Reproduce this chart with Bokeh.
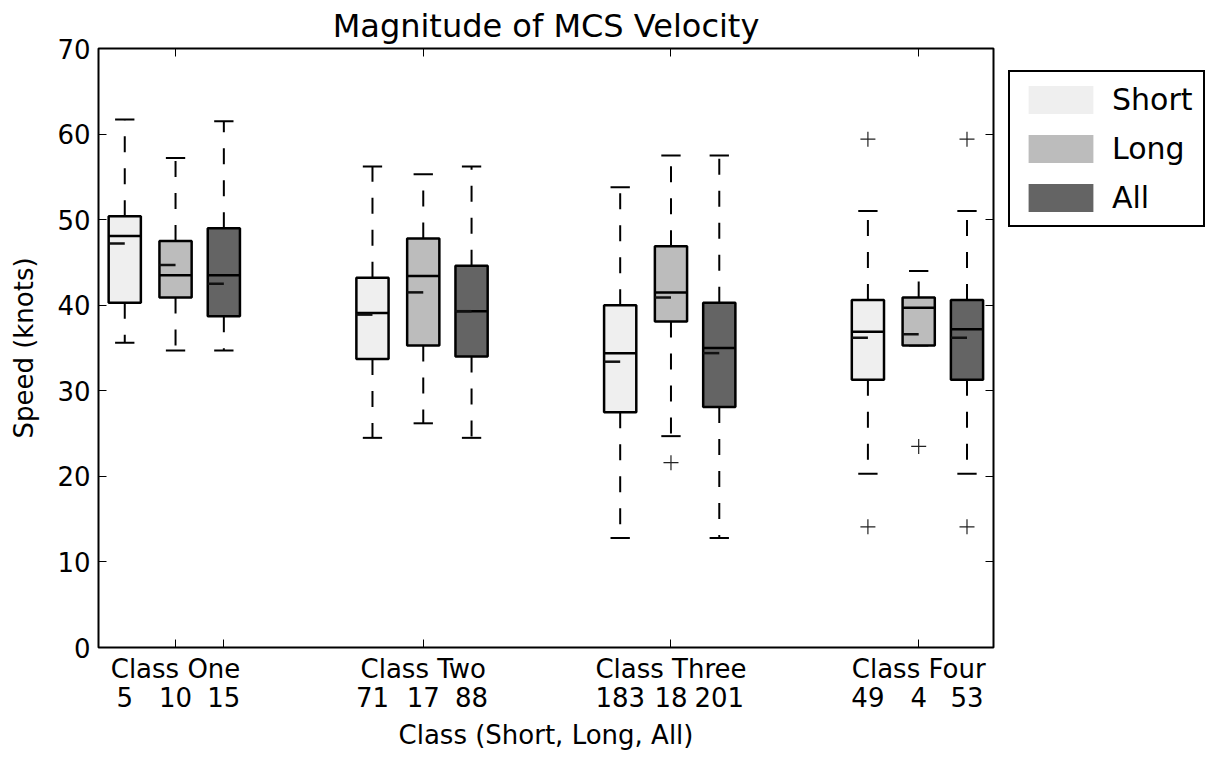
from bokeh.plotting import figure
from bokeh.layouts import row
from bokeh.models import Range1d, LinearAxis, FixedTicker, Legend, LegendItem, ColumnDataSource
from bokeh.embed import file_html
from bokeh.resources import INLINE

# ---------------- data ----------------
classes = ["Class One", "Class Two", "Class Three", "Class Four"]
series = ["Short", "Long", "All"]

short_counts = [5, 71, 183, 49]
long_counts = [10, 17, 18, 4]
all_counts = [15, 88, 201, 53]

short_low = [35.6, 24.5, 12.8, 20.3]
short_q1 = [40.3, 33.7, 27.5, 31.3]
short_median = [48.1, 39.1, 34.4, 36.9]
short_q3 = [50.4, 43.2, 40.0, 40.6]
short_high = [61.7, 56.2, 53.8, 51.0]
short_mean = [47.2, 38.9, 33.4, 36.2]
short_outliers = [[], [], [], [59.4, 14.1]]

long_low = [34.7, 26.2, 24.7, 35.3]
long_q1 = [40.9, 35.3, 38.1, 35.3]
long_median = [43.5, 43.4, 41.5, 39.7]
long_q3 = [47.5, 47.8, 46.9, 40.9]
long_high = [57.2, 55.3, 57.5, 44.0]
long_mean = [44.7, 41.5, 40.9, 36.6]
long_outliers = [[], [], [21.6], [23.5]]

all_low = [34.7, 24.5, 12.8, 20.3]
all_q1 = [38.7, 34.0, 28.1, 31.3]
all_median = [43.5, 39.3, 35.0, 37.2]
all_q3 = [49.0, 44.6, 40.3, 40.6]
all_high = [61.5, 56.2, 57.5, 51.0]
all_mean = [42.5, 39.3, 34.4, 36.2]
all_outliers = [[], [], [], [59.4, 14.1]]

y_ticks = [0, 10, 20, 30, 40, 50, 60, 70]

stats = {
    "Short": dict(counts=short_counts, low=short_low, q1=short_q1, med=short_median,
                  q3=short_q3, high=short_high, mean=short_mean, out=short_outliers),
    "Long": dict(counts=long_counts, low=long_low, q1=long_q1, med=long_median,
                 q3=long_q3, high=long_high, mean=long_mean, out=long_outliers),
    "All": dict(counts=all_counts, low=all_low, q1=all_q1, med=all_median,
                q3=all_q3, high=all_high, mean=all_mean, out=all_outliers),
}
colors = {"Short": "#efefef", "Long": "#bcbcbc", "All": "#646464"}

# ---------------- layout constants ----------------
FONT = "DejaVu Sans"
group_centers = [0, 100, 200, 300]
offsets = {"Short": -20.5, "Long": 0.0, "All": 19.5}
box_w = 13.0
cap_half = 3.9

p = figure(width=995, height=761, output_backend="svg", toolbar_location=None,
           x_range=Range1d(-31.1, 330.2), y_range=Range1d(0, 70),
           x_axis_location=None, y_axis_location=None,
           title="Magnitude of MCS Velocity",
           min_border_left=98, min_border_right=2, min_border_top=48, min_border_bottom=114)
p.background_fill_color = "white"
p.border_fill_color = "white"
p.outline_line_color = "black"
p.outline_line_width = 2
p.xgrid.visible = False
p.ygrid.visible = False

p.title.text_font = FONT
p.title.text_font_size = "32px"
p.title.text_font_style = "normal"
p.title.text_color = "black"
p.title.align = "center"
p.title.standoff = 8


def style_axis(ax):
    ax.axis_line_color = None
    ax.major_tick_in = 8
    ax.major_tick_out = 0
    ax.minor_tick_line_color = None
    ax.major_tick_line_color = "black"
    ax.major_tick_line_width = 1
    ax.major_label_text_font = FONT
    ax.major_label_text_font_size = "26px"
    ax.major_label_text_color = "black"
    ax.axis_label_text_font = FONT
    ax.axis_label_text_font_size = "26px"
    ax.axis_label_text_font_style = "normal"
    ax.axis_label_text_color = "black"


# left axis
ax_left = LinearAxis(ticker=FixedTicker(ticks=y_ticks), axis_label="Speed (knots)")
style_axis(ax_left)
ax_left.major_label_standoff = 8
ax_left.axis_label_standoff = 15
p.add_layout(ax_left, "left")

# right axis (ticks only)
ax_right = LinearAxis(ticker=FixedTicker(ticks=y_ticks),
                      major_label_overrides={float(t): "" for t in y_ticks})
style_axis(ax_right)
ax_right.major_label_text_font_size = "0px"
ax_right.major_label_standoff = 0
p.add_layout(ax_right, "right")

# bottom axis 1: class names
b1_ticks = group_centers + [group_centers[0] + offsets["All"]]
b1_labels = {float(c): name for c, name in zip(group_centers, classes)}
b1_labels[float(group_centers[0] + offsets["All"])] = ""
ax_b1 = LinearAxis(ticker=FixedTicker(ticks=b1_ticks), major_label_overrides=b1_labels)
style_axis(ax_b1)
ax_b1.major_label_standoff = 6
p.add_layout(ax_b1, "below")

# bottom axis 2: counts under each box
b2_ticks = []
b2_labels = {}
for s in series:
    for c, n in zip(group_centers, stats[s]["counts"]):
        pos = float(c + offsets[s])
        b2_ticks.append(pos)
        b2_labels[pos] = str(n)
ax_b2 = LinearAxis(ticker=FixedTicker(ticks=sorted(b2_ticks)), major_label_overrides=b2_labels,
                   axis_label="Class (Short, Long, All)")
style_axis(ax_b2)
ax_b2.major_tick_line_color = None
ax_b2.major_tick_in = 0
ax_b2.major_label_standoff = 0
ax_b2.axis_label_standoff = 10
p.add_layout(ax_b2, "below")

# top axis (ticks only)
ax_top = LinearAxis(ticker=FixedTicker(ticks=group_centers),
                    major_label_overrides={float(t): "" for t in group_centers})
style_axis(ax_top)
ax_top.major_label_text_font_size = "0px"
ax_top.major_label_standoff = 0
p.add_layout(ax_top, "above")

# legend host figure (to the right of the axes box)
pl = figure(width=212, height=761, output_backend="svg", toolbar_location=None,
            x_range=Range1d(1000, 1001), y_range=Range1d(0, 1),
            x_axis_location=None, y_axis_location=None, min_border=0)
pl.outline_line_color = None
pl.background_fill_color = "white"
pl.border_fill_color = "white"
pl.xgrid.visible = False
pl.ygrid.visible = False

# ---------------- boxes ----------------
legend_items = []
for s in series:
    st = stats[s]
    xs = [c + offsets[s] for c in group_centers]
    src = ColumnDataSource(dict(
        x=xs,
        low=st["low"], q1=st["q1"], med=st["med"], q3=st["q3"], high=st["high"], mean=st["mean"],
        left=[x - box_w / 2 for x in xs], right=[x + box_w / 2 for x in xs],
        capl=[x - cap_half for x in xs], capr=[x + cap_half for x in xs],
    ))
    # whiskers (dashed)
    p.segment(x0="x", y0="q3", x1="x", y1="high", source=src, line_color="black",
              line_width=2, line_dash="16 16")
    p.segment(x0="x", y0="q1", x1="x", y1="low", source=src, line_color="black",
              line_width=2, line_dash="16 16")
    # caps
    p.segment(x0="capl", y0="high", x1="capr", y1="high", source=src, line_color="black", line_width=2)
    p.segment(x0="capl", y0="low", x1="capr", y1="low", source=src, line_color="black", line_width=2)
    # box
    p.quad(left="left", right="right", bottom="q1", top="q3", source=src,
           fill_color=colors[s], line_color="black", line_width=2.5)
    # median
    p.segment(x0="left", y0="med", x1="right", y1="med", source=src, line_color="black", line_width=2.5)
    # mean marker
    p.segment(x0="left", y0="mean", x1="x", y1="mean", source=src, line_color="#111111", line_width=2.5)
    # outliers
    ox, oy = [], []
    for x, outs in zip(xs, st["out"]):
        for v in outs:
            ox.append(x)
            oy.append(v)
    p.scatter(x=ox, y=oy, marker="cross", size=15, line_color="#222222", line_width=1.2)
    # legend swatch renderer (same box data; lies outside the legend panel's range)
    r_leg = pl.quad(left="left", right="right", bottom="q1", top="q3", source=src,
                    fill_color=colors[s], line_color=None)
    legend_items.append(LegendItem(label=s, renderers=[r_leg]))

legend = Legend(items=legend_items, location=(13, 420))
legend.label_text_font = FONT
legend.label_text_font_size = "30px"
legend.label_text_color = "black"
legend.glyph_width = 81
legend.glyph_height = 35
legend.label_standoff = 11
legend.padding = 10
legend.spacing = 14
legend.margin = 0
legend.border_line_color = "black"
legend.border_line_alpha = 1.0
legend.border_line_width = 2
legend.background_fill_color = "white"
legend.background_fill_alpha = 1.0
pl.add_layout(legend, "center")

layout = row(p, pl)
open("out.html", "w").write(file_html(layout, INLINE))
